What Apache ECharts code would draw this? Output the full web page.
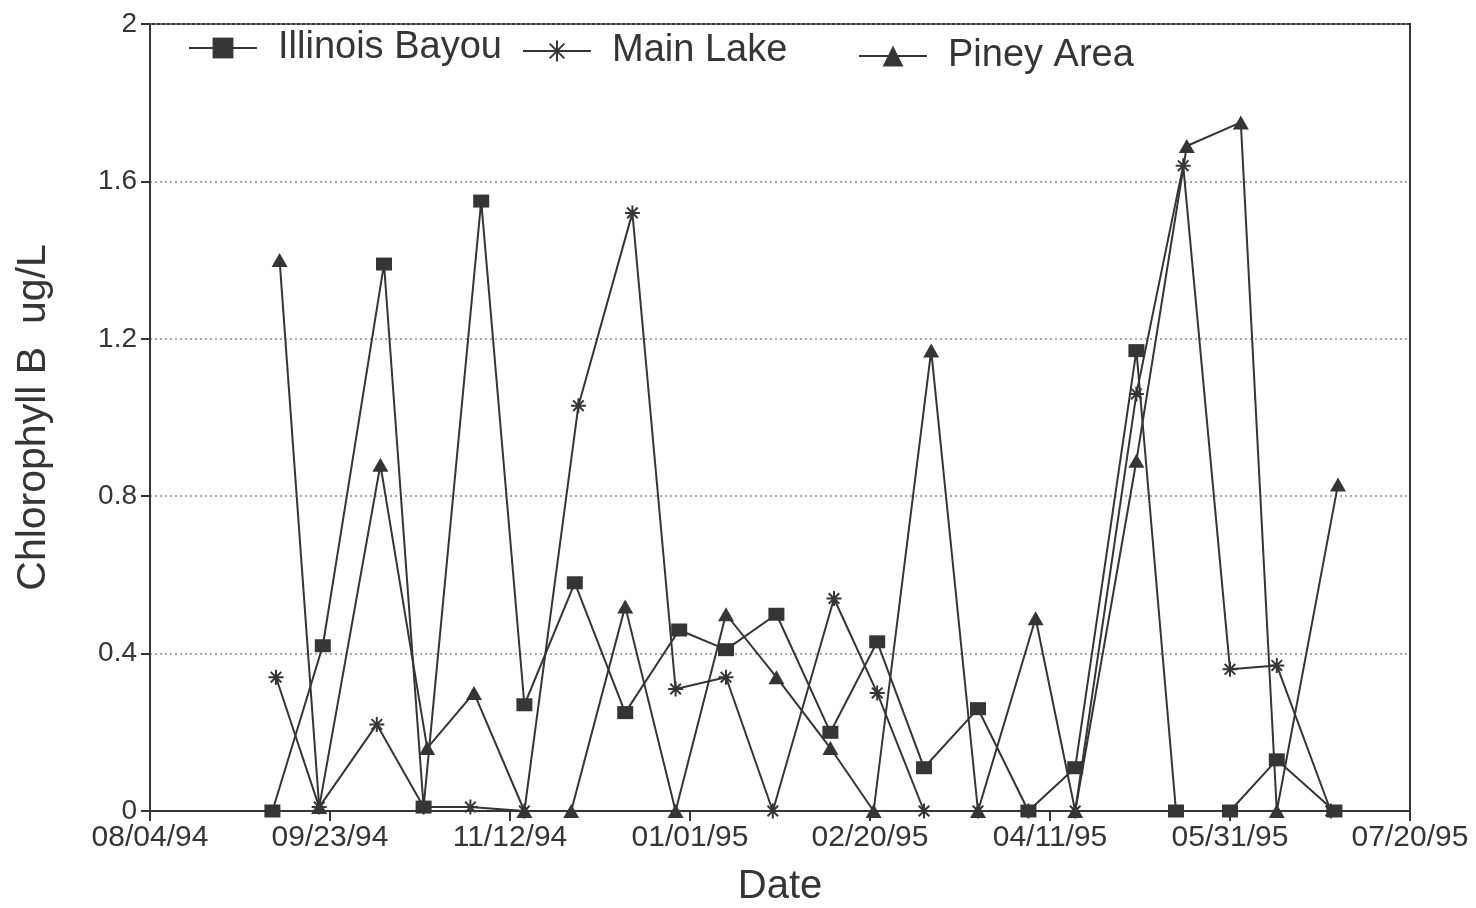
<!DOCTYPE html>
<html>
<head>
<meta charset="utf-8">
<script src="https://cdn.jsdelivr.net/npm/echarts@6/dist/echarts.min.js"></script>
<style>
html,body{margin:0;padding:0;background:#fff;}
#chart{width:1476px;height:908px;}
</style>
</head>
<body>
<div id="chart"></div>
<script>
// ---- data ----
var seriesNames = ['Illinois Bayou', 'Main Lake', 'Piney Area'];

var illinoisDates = ['1994-09-07','1994-09-21','1994-10-08','1994-10-19','1994-11-04','1994-11-16','1994-11-30','1994-12-14','1994-12-29','1995-01-11','1995-01-25','1995-02-09','1995-02-22','1995-03-07','1995-03-22','1995-04-05','1995-04-18','1995-05-05','1995-05-16','1995-05-31','1995-06-13','1995-06-29'];
var illinoisValues = [0.00, 0.42, 1.39, 0.01, 1.55, 0.27, 0.58, 0.25, 0.46, 0.41, 0.50, 0.20, 0.43, 0.11, 0.26, 0.00, 0.11, 1.17, 0.00, 0.00, 0.13, 0.00];

var mainDates = ['1994-09-08','1994-09-20','1994-10-06','1994-10-19','1994-11-01','1994-11-16','1994-12-01','1994-12-16','1994-12-28','1995-01-11','1995-01-24','1995-02-10','1995-02-22','1995-03-07','1995-03-22','1995-04-05','1995-04-18','1995-05-05','1995-05-18','1995-05-31','1995-06-13','1995-06-28'];
var mainValues = [0.34, 0.01, 0.22, 0.01, 0.01, 0.00, 1.03, 1.52, 0.31, 0.34, 0.00, 0.54, 0.30, 0.00, 0.00, 0.00, 0.00, 1.06, 1.64, 0.36, 0.37, 0.00];

var pineyDates = ['1994-09-09','1994-09-20','1994-10-07','1994-10-20','1994-11-02','1994-11-16','1994-11-29','1994-12-14','1994-12-28','1995-01-11','1995-01-25','1995-02-09','1995-02-21','1995-03-09','1995-03-22','1995-04-07','1995-04-18','1995-05-05','1995-05-19','1995-06-03','1995-06-13','1995-06-30'];
var pineyValues = [1.40, 0.01, 0.88, 0.16, 0.30, 0.00, 0.00, 0.52, 0.00, 0.50, 0.34, 0.16, 0.00, 1.17, 0.00, 0.49, 0.00, 0.89, 1.69, 1.75, 0.00, 0.83];

var xStart = '1994-08-04';
var xEnd = '1995-07-20';
var xStepDays = 50;
var yMin = 0, yMax = 2, yStep = 0.4;
var xTitle = 'Date';
var yTitle = 'Chlorophyll B  ug/L';

// ---- helpers ----
function ts(s) { var p = s.split('-'); return Date.UTC(+p[0], +p[1] - 1, +p[2]); }
function pad(n) { return (n < 10 ? '0' : '') + n; }
function fmt(v) {
  var d = new Date(v);
  return pad(d.getUTCMonth() + 1) + '/' + pad(d.getUTCDate()) + '/' + pad(d.getUTCFullYear() % 100);
}
function pairs(dates, vals) { return dates.map(function (d, i) { return [ts(d), vals[i]]; }); }

var INK = '#353535';
var FONT = '"Liberation Sans", Arial, sans-serif';
var asterisk = 'path://M10,0L10,20M0,10L20,10M2.93,2.93L17.07,17.07M2.93,17.07L17.07,2.93';

var chart = echarts.init(document.getElementById('chart'), null, { renderer: 'canvas' });

function legendFor(name, left, top) {
  return {
    data: [name], left: left, top: top, orient: 'horizontal',
    itemWidth: 68, itemHeight: 26, padding: 0,
    textStyle: { fontFamily: FONT, fontSize: 38, color: INK, padding: [0, 0, 0, 16] }
  };
}

var option = {
  backgroundColor: '#ffffff',
  animation: false,
  textStyle: { fontFamily: FONT },
  legend: [
    legendFor(seriesNames[0], 188, 29),
    legendFor(seriesNames[1], 522, 32),
    legendFor(seriesNames[2], 858, 37)
  ],
  grid: {
    left: 150, top: 24, width: 1260, height: 787,
    containLabel: false, outerBoundsMode: 'none',
    show: true, borderColor: INK, borderWidth: 2, backgroundColor: 'transparent'
  },
  xAxis: {
    type: 'value',
    min: ts(xStart), max: ts(xEnd), interval: xStepDays * 86400000,
    name: xTitle, nameLocation: 'middle', nameGap: 56,
    nameTextStyle: { fontFamily: FONT, fontSize: 40, color: INK },
    axisLine: { show: true, lineStyle: { color: INK, width: 2 } },
    axisTick: { show: true, length: 10, lineStyle: { color: INK, width: 2 } },
    axisLabel: { formatter: fmt, fontFamily: FONT, fontSize: 30, color: INK, margin: 12, showMinLabel: true, showMaxLabel: true },
    splitLine: { show: false }
  },
  yAxis: {
    type: 'value', min: yMin, max: yMax, interval: yStep,
    name: yTitle, nameLocation: 'middle', nameGap: 96,
    nameTextStyle: { fontFamily: FONT, fontSize: 41, color: INK },
    axisLine: { show: true, lineStyle: { color: INK, width: 2 } },
    axisTick: { show: true, length: 9, lineStyle: { color: INK, width: 2 } },
    axisLabel: { fontFamily: FONT, fontSize: 28, color: INK, margin: 13 },
    splitLine: { show: true, lineStyle: { color: '#8a8a8a', type: [2, 3], width: 1.5 } }
  },
  series: [
    {
      name: seriesNames[0], type: 'line', data: pairs(illinoisDates, illinoisValues),
      symbol: 'rect', symbolSize: [16, 13],
      lineStyle: { color: INK, width: 2 }, itemStyle: { color: INK }
    },
    {
      name: seriesNames[1], type: 'line', data: pairs(mainDates, mainValues),
      symbol: asterisk, symbolSize: 15,
      lineStyle: { color: INK, width: 2 }, itemStyle: { color: INK, borderColor: INK, borderWidth: 2 }
    },
    {
      name: seriesNames[2], type: 'line', data: pairs(pineyDates, pineyValues),
      symbol: 'triangle', symbolSize: [16, 14],
      lineStyle: { color: INK, width: 2 }, itemStyle: { color: INK }
    }
  ]
};
chart.setOption(option);
</script>
</body>
</html>
